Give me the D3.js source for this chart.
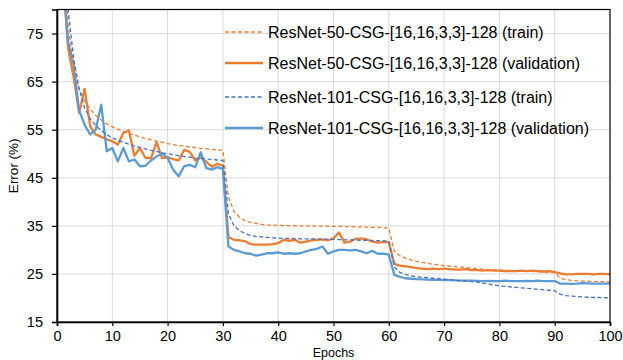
<!DOCTYPE html>
<html>
<head>
<meta charset="utf-8">
<script src="https://cdn.jsdelivr.net/npm/d3@7"></script>
<style>
  body { margin: 0; background: #fff; }
  svg { display: block; font-family: "Liberation Sans", Arial, sans-serif; }
</style>
</head>
<body>
<div id="chart"></div>
<script>
// epochs 1..100
const epochs = d3.range(1, 101);

const r50Train = [92,77,68,63.5,61,59.3,58,57,56.2,55.6,55.1,54.6,54.2,53.9,53.5,53.2,52.9,52.6,52.4,52.1,51.9,51.7,51.6,51.4,51.3,51.1,51.0,50.9,50.8,50.7,
  41,38,36.8,36.1,35.7,35.5,35.3,35.2,35.15,35.1,35.05,35.05,35.0,35.0,35.0,35.0,34.95,34.95,34.9,34.9,34.9,34.85,34.85,34.8,34.8,34.75,34.7,34.7,34.65,34.5,
  29.7,28.8,28.3,27.9,27.6,27.4,27.2,27.0,26.9,26.7,26.6,26.5,26.4,26.3,26.2,26.1,26.0,25.9,25.85,25.8,25.75,25.7,25.65,25.6,25.55,25.5,25.45,25.4,25.35,25.3,
  24.1,23.8,23.65,23.55,23.5,23.45,23.45,23.4,23.4,23.35];

const r50Val = [88,72,66,58.5,63.5,55.7,54,53.5,53,52.6,51.9,54.3,54.9,49.6,51.2,49.1,49.1,52.4,49.1,49.3,48.9,48.6,50.8,50.4,48.6,49.2,48.3,47.3,47.9,47.5,
  32.7,32.1,32,31.8,31.2,31.1,31.1,31.1,31.2,31.4,32.1,31.9,32.1,31.5,31.7,32,32.1,32.2,32,32.4,33.6,31.5,31.7,32.3,32.4,32.2,31.7,31.5,31.6,31.6,
  27.1,26.7,26.6,26.4,26.2,26.1,26.0,26.1,26.0,26.1,26.0,25.9,25.9,26.0,25.8,25.8,25.7,25.8,25.7,25.7,25.6,25.6,25.6,25.7,25.6,25.7,25.6,25.5,25.6,25.4,
  25.1,24.9,24.9,25.0,25.0,25.0,24.9,25.0,25.0,24.9];

const r101Train = [95,80,70,63.5,59.5,57.3,55.9,54.8,54,53.3,52.8,52.4,52,51.6,51.3,51,50.7,50.5,50.2,50,49.8,49.6,49.4,49.3,49.1,49,48.9,48.8,48.7,48.6,
  37.5,35,34,33.4,33,32.8,32.7,32.6,32.5,32.45,32.4,32.4,32.35,32.3,32.3,32.3,32.25,32.25,32.2,32.2,32.15,32.1,32.1,32.05,32.0,32.0,31.95,31.9,31.9,31.8,
  26.5,25.3,24.9,24.6,24.4,24.3,24.2,24.1,24.0,23.9,23.8,23.7,23.6,23.5,23.4,23.3,23.1,22.9,22.7,22.5,22.4,22.3,22.2,22.1,22.0,21.9,21.8,21.7,21.6,21.5,
  20.8,20.5,20.4,20.3,20.2,20.15,20.1,20.1,20.05,20.0];

const r101Val = [88,73.3,68.5,59,56,54,55,60.2,50.5,51.2,48.4,51.2,48.4,48.8,47.4,47.5,48.6,49.4,50.1,49.1,46.7,45.3,47.4,47.7,47.2,50.3,47,46.7,47.2,46.8,
  30.7,30,29.7,29.3,29.2,28.8,29,29.3,29.3,29.5,29.2,29.3,29.2,29.3,29.7,30,30.2,30.7,29.2,29.7,30,30,29.9,30,29.7,29.3,29.8,29.2,29.2,29,
  24.8,24.4,24.1,24.0,23.9,23.85,23.8,23.75,23.75,23.7,23.7,23.65,23.6,23.6,23.6,23.55,23.5,23.55,23.5,23.5,23.6,23.5,23.5,23.5,23.55,23.5,23.6,23.5,23.5,23.5,
  23.0,23.0,22.95,23.0,23.1,23.05,23.0,23.0,23.0,23.0];

const seriesNames = [
  "ResNet-50-CSG-[16,16,3,3]-128 (train)",
  "ResNet-50-CSG-[16,16,3,3]-128 (validation)",
  "ResNet-101-CSG-[16,16,3,3]-128 (train)",
  "ResNet-101-CSG-[16,16,3,3]-128 (validation)"
];
const xTicks = [0,10,20,30,40,50,60,70,80,90,100];
const yTicks = [15,25,35,45,55,65,75];

const series = [
  {name: seriesNames[0], values: r50Train,  color: "#ED7D31", width: 1.3, dash: "4,2.5"},
  {name: seriesNames[1], values: r50Val,    color: "#ED7D31", width: 2.3, dash: null},
  {name: seriesNames[2], values: r101Train, color: "#4472C4", width: 1.3, dash: "4,2.5"},
  {name: seriesNames[3], values: r101Val,   color: "#5B9BD5", width: 2.3, dash: null}
];

const W = 623, H = 360;
const margin = {top: 9.5, right: 13, bottom: 38, left: 57};
const width = W - margin.left - margin.right;
const height = H - margin.top - margin.bottom;

const svg = d3.select("#chart").append("svg")
  .attr("width", W)
  .attr("height", H);

const g = svg.append("g")
  .attr("transform", `translate(${margin.left},${margin.top})`);

const x = d3.scaleLinear().domain([0, 100]).range([0, width]);
const y = d3.scaleLinear().domain([15, 80]).range([height, 0]);

// gridlines
g.append("g")
  .selectAll("line")
  .data(xTicks.slice(1, -1))
  .join("line")
    .attr("x1", d => x(d)).attr("x2", d => x(d))
    .attr("y1", 0).attr("y2", height)
    .attr("stroke", "#d9d9d9").attr("stroke-width", 1);

g.append("g")
  .selectAll("line")
  .data(yTicks.slice(1))
  .join("line")
    .attr("x1", 0).attr("x2", width)
    .attr("y1", d => y(d)).attr("y2", d => y(d))
    .attr("stroke", "#d9d9d9").attr("stroke-width", 1);

// clip
svg.append("defs").append("clipPath").attr("id", "plotclip")
  .append("rect").attr("width", width).attr("height", height);

const line = d3.line()
  .x((d, i) => x(epochs[i]))
  .y(d => y(d));

const lines = g.append("g").attr("clip-path", "url(#plotclip)");
// validation under, dashed train lines over
[series[1], series[3], series[0], series[2]].forEach(s => {
  lines.append("path")
    .datum(s.values)
    .attr("d", line)
    .attr("fill", "none")
    .attr("stroke", s.color)
    .attr("stroke-width", s.width)
    .attr("stroke-dasharray", s.dash)
    .attr("stroke-linejoin", "round");
});

// frame
g.append("rect")
  .attr("width", width).attr("height", height)
  .attr("fill", "none").attr("stroke", "#000").attr("stroke-width", 1.2);

// axes
const xAxis = g.append("g")
  .attr("transform", `translate(0,${height})`)
  .call(d3.axisBottom(x).tickValues(xTicks).tickSize(4).tickPadding(5));
const yAxis = g.append("g")
  .call(d3.axisLeft(y).tickValues(yTicks).tickSize(5).tickPadding(9));

[xAxis, yAxis].forEach(a => {
  a.select(".domain").attr("stroke", "#000").attr("stroke-width", 1.6);
  a.selectAll(".tick line").attr("stroke", "#000").attr("stroke-width", 1.2);
  a.selectAll(".tick text")
    .attr("fill", "#000")
    .style("font-size", "14.5px")
    .style("font-family", "'Liberation Sans', Arial, sans-serif");
});

// axis titles
svg.append("text")
  .attr("x", margin.left + width / 2)
  .attr("y", 357)
  .attr("text-anchor", "middle")
  .style("font-size", "12.5px")
  .attr("fill", "#000")
  .text("Epochs");

svg.append("text")
  .attr("transform", `translate(18,${margin.top + height / 2}) rotate(-90)`)
  .attr("text-anchor", "middle")
  .style("font-size", "13.5px")
  .attr("fill", "#000")
  .text("Error (%)");

// legend
const legendRows = [32, 63, 97, 128];
const legend = svg.append("g");
series.forEach((s, i) => {
  const row = legend.append("g").attr("transform", `translate(225,${legendRows[i]})`);
  row.append("line")
    .attr("x1", 0).attr("x2", 38)
    .attr("stroke", s.color)
    .attr("stroke-width", s.width)
    .attr("stroke-dasharray", s.dash);
  row.append("text")
    .attr("x", 43)
    .attr("dy", "0.35em")
    .style("font-size", "16px")
    .attr("fill", "#000")
    .text(s.name);
});
</script>
</body>
</html>
